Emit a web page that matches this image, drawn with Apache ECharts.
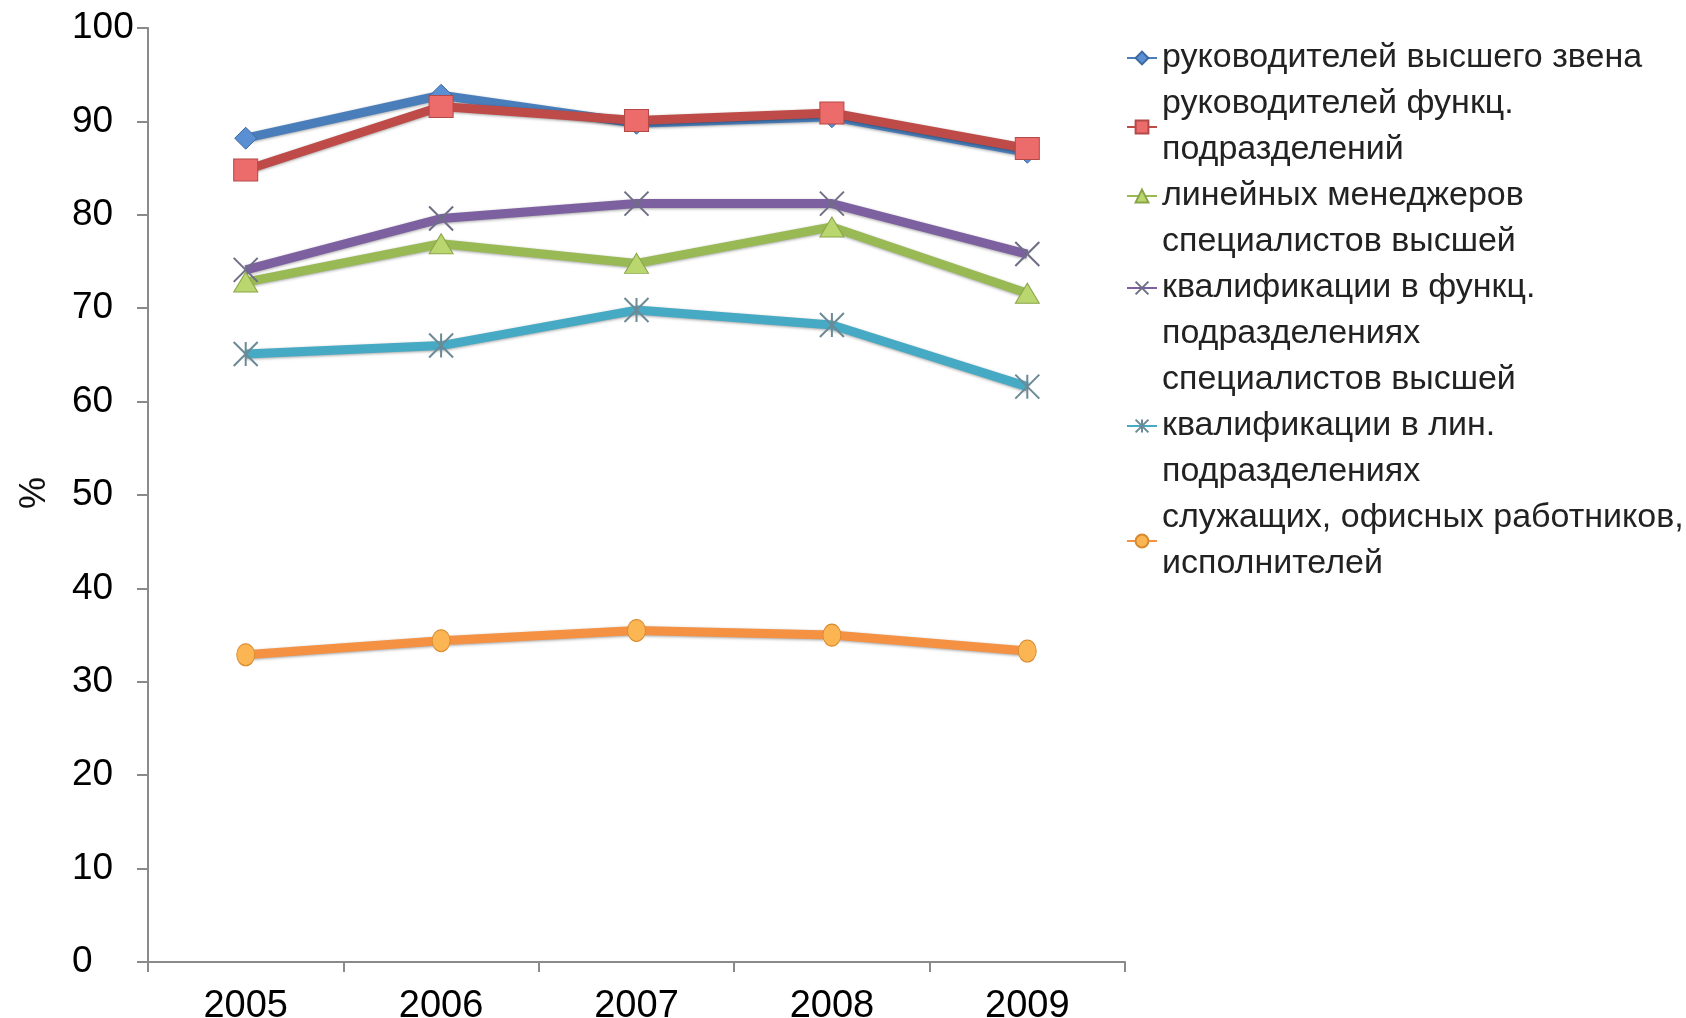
<!DOCTYPE html>
<html>
<head>
<meta charset="utf-8">
<script src="https://cdn.jsdelivr.net/npm/echarts@6/dist/echarts.min.js"></script>
<style>
html,body{margin:0;padding:0;background:#fff;}
#chart{width:1686px;height:1018px;}
</style>
</head>
<body>
<div id="chart"></div>
<script>
var years = ['2005', '2006', '2007', '2008', '2009'];
var seriesNames = [
  'руководителей высшего звена',
  'руководителей функц.\nподразделений',
  'линейных менеджеров',
  'специалистов высшей\nквалификации в функц.\nподразделениях',
  'специалистов высшей\nквалификации в лин.\nподразделениях',
  'служащих, офисных работников,\nисполнителей'
];
var topManagers = [88.2, 92.8, 89.8, 90.5, 86.7];
var functionalHeads = [84.8, 91.6, 90.1, 90.9, 87.1];
var lineManagers = [72.8, 76.9, 74.8, 78.7, 71.6];
var specialistsFunc = [74.1, 79.6, 81.2, 81.2, 75.8];
var specialistsLine = [65.1, 66.0, 69.8, 68.2, 61.6];
var officeWorkers = [32.9, 34.4, 35.5, 35.0, 33.3];
var yTicks = [0, 100, 10];
var yAxisTitle = '%';

var X_PATH = 'path://M0,0L20,20M20,0L0,20';
var AST_PATH = 'path://M0,0L20,20M20,0L0,20M10,0L10,20';

function mk(name, data, lineColor, symbol, size, fill, border, bw) {
  return {
    name: name,
    type: 'line',
    data: data,
    symbol: symbol,
    symbolSize: size,
    showAllSymbol: true,
    lineStyle: {
      color: lineColor, width: 9,
      shadowColor: 'rgba(0,0,0,0.35)', shadowBlur: 3, shadowOffsetY: 1
    },
    itemStyle: { color: fill, borderColor: border, borderWidth: bw },
    z: 2
  };
}

var chart = echarts.init(document.getElementById('chart'), null, {renderer: 'canvas'});
chart.setOption({
  animation: false,
  backgroundColor: '#ffffff',
  grid: { left: 148, right: 561, top: 28, bottom: 56, containLabel: false, outerBoundsMode: 'none' },
  graphic: [{
    type: 'text',
    x: 35,
    y: 493,
    rotation: Math.PI / 2,
    style: {
      text: yAxisTitle,
      fontFamily: 'Liberation Sans',
      fontSize: 36,
      fill: '#111',
      align: 'center',
      verticalAlign: 'middle'
    }
  }],
  legend: {
    orient: 'vertical',
    left: 1121,
    top: 30,
    itemGap: 0,
    itemWidth: 30,
    itemHeight: 16,
    textStyle: { fontFamily: 'Liberation Sans', fontSize: 34, lineHeight: 46, color: '#222' },
    data: seriesNames
  },
  xAxis: {
    type: 'category',
    data: years,
    boundaryGap: true,
    axisLine: { lineStyle: { color: '#8a8a8a', width: 2 } },
    axisTick: { show: true, length: 10, lineStyle: { color: '#8a8a8a', width: 2 } },
    axisLabel: { fontFamily: 'Liberation Sans', fontSize: 38, color: '#000', margin: 26 }
  },
  yAxis: {
    type: 'value',
    min: yTicks[0],
    max: yTicks[1],
    interval: yTicks[2],
    axisLine: { show: true, lineStyle: { color: '#8a8a8a', width: 2 } },
    axisTick: { show: true, length: 11, lineStyle: { color: '#8a8a8a', width: 2 } },
    splitLine: { show: false },
    axisLabel: { fontFamily: 'Liberation Sans', fontSize: 37, color: '#000', margin: 76, align: 'left' }
  },
  series: [
    mk(seriesNames[0], topManagers, '#4a7ebb', 'diamond', 22, '#5b8fd3', '#3d6aa0', 1),
    mk(seriesNames[1], functionalHeads, '#be4b48', 'rect', [24, 22], '#ec6b6b', '#b44a48', 1),
    mk(seriesNames[2], lineManagers, '#98b954', 'triangle', [24, 20], '#b9d66f', '#8aa549', 1),
    mk(seriesNames[3], specialistsFunc, '#7d60a0', X_PATH, 24, 'rgba(0,0,0,0)', '#6e6e86', 2),
    mk(seriesNames[4], specialistsLine, '#46aac5', AST_PATH, 24, 'rgba(0,0,0,0)', '#6b8a96', 2),
    mk(seriesNames[5], officeWorkers, '#f59143', 'circle', [18, 22], '#fbb552', '#d98a2f', 1)
  ]
});
</script>
</body>
</html>
